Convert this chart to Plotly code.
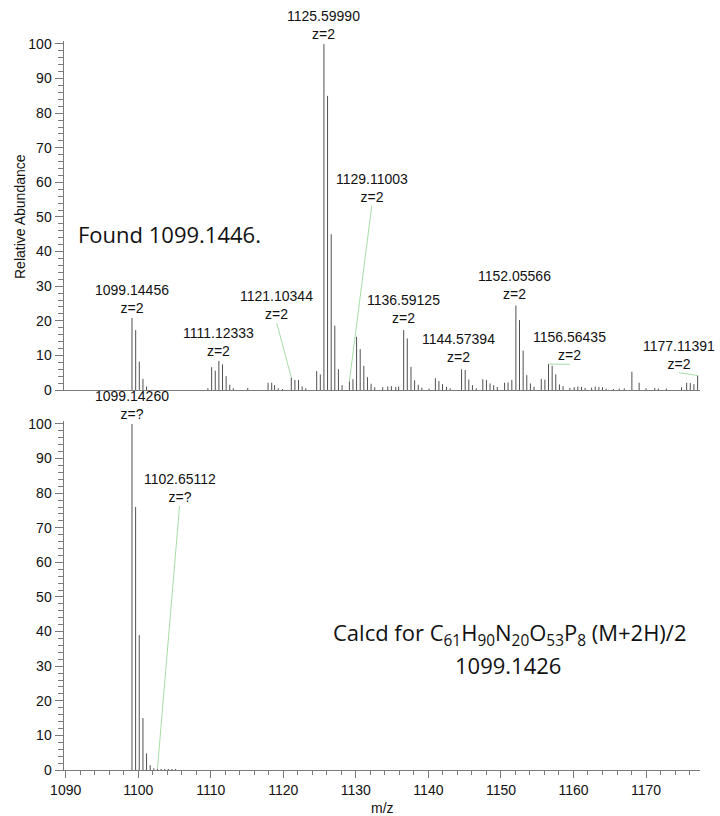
import plotly.graph_objects as go

# ---------------- data ----------------
top_mz = [1099.14, 1099.65, 1100.15, 1100.65, 1101.15, 1109.6, 1110.12, 1110.62, 1111.12, 1111.62,
          1112.12, 1112.62, 1113.1, 1115.1, 1117.9, 1118.4, 1118.8, 1119.3, 1119.9, 1121.10,
          1121.6, 1122.1, 1122.6, 1123.1, 1124.6, 1125.1, 1125.60, 1126.10, 1126.60, 1127.10,
          1127.60, 1128.10, 1129.11, 1129.6, 1130.1, 1130.6, 1131.1, 1131.6, 1132.1, 1132.6,
          1133.7, 1134.4, 1134.9, 1135.5, 1135.9, 1136.59, 1137.09, 1137.6, 1138.1, 1138.6,
          1139.1, 1140.1, 1140.96, 1141.45, 1141.95, 1142.5, 1143.0, 1144.57, 1145.07, 1145.57,
          1146.07, 1146.6, 1147.5, 1148.0, 1148.5, 1149.0, 1149.5, 1150.5, 1150.98, 1151.5,
          1152.06, 1152.56, 1153.06, 1153.56, 1154.06, 1154.56, 1155.56, 1156.06, 1156.56, 1157.06,
          1157.56, 1158.06, 1158.56, 1159.5, 1160.1, 1160.6, 1161.1, 1161.6, 1162.5, 1163.0,
          1163.5, 1164.0, 1164.5, 1165.5, 1166.3, 1167.0, 1168.05, 1169.05, 1170.0, 1171.2,
          1171.7, 1172.8, 1174.9, 1175.6, 1176.1, 1176.6, 1177.11]
top_int = [20.8, 17.3, 8.2, 3.2, 1.0, 0.5, 6.6, 5.6, 8.4, 7.4,
           4.0, 1.5, 0.5, 0.6, 2.1, 2.1, 1.4, 0.5, 0.3, 3.6,
           2.9, 2.9, 1.0, 0.5, 5.5, 4.5, 100.0, 85.0, 45.0, 18.6,
           6.0, 1.4, 2.5, 3.1, 15.4, 11.8, 7.0, 3.7, 1.8, 0.8,
           0.8, 1.0, 1.1, 0.9, 1.0, 17.3, 14.9, 6.7, 2.8, 1.5,
           0.7, 0.4, 3.4, 2.6, 1.7, 0.9, 0.5, 6.0, 5.8, 3.0,
           1.4, 0.5, 3.1, 2.9, 1.9, 1.4, 0.9, 2.1, 2.2, 2.9,
           24.4, 20.2, 11.4, 4.3, 1.9, 0.9, 3.2, 3.0, 7.5, 7.0,
           4.5, 1.6, 1.1, 0.6, 0.8, 1.0, 0.9, 0.6, 0.7, 1.0,
           0.9, 0.8, 0.4, 0.3, 0.4, 0.5, 5.3, 2.1, 0.5, 0.6,
           0.4, 0.4, 0.8, 2.1, 2.0, 1.7, 4.2]

bot_mz = [1099.14, 1099.64, 1100.14, 1100.65, 1101.15, 1101.65, 1102.15, 1102.65,
          1103.15, 1103.65, 1104.15, 1104.65, 1105.15]
bot_int = [100.0, 76.0, 39.0, 15.0, 4.8, 1.4, 0.5, 0.3,
           0.3, 0.3, 0.3, 0.3, 0.3]

# labels: (mass text, charge text, label x, label bottom y, leader-target x, leader-target y or None)
top_labels = [
    ("1099.14456", "z=2", 1099.14, 21.0, None, None),
    ("1111.12333", "z=2", 1111.10, 8.8, None, None),
    ("1121.10344", "z=2", 1119.10, 19.3, 1121.10, 3.6),
    ("1125.59990", "z=2", 1125.50, 100.3, None, None),
    ("1129.11003", "z=2", 1132.20, 53.3, 1129.11, 2.5),
    ("1136.59125", "z=2", 1136.50, 18.3, None, None),
    ("1144.57394", "z=2", 1144.10, 6.8, None, None),
    ("1152.05566", "z=2", 1151.90, 25.0, None, None),
    ("1156.56435", "z=2", 1159.50, 7.4, 1156.56, 7.5),
    ("1177.11391", "z=2", 1174.50, 5.0, 1177.11, 4.2),
]
bot_labels = [
    ("1099.14260", "z=?", 1099.10, 100.3, None, None),
    ("1102.65112", "z=?", 1105.70, 76.3, 1102.65, 0.3),
]

x_ticks = [1090, 1100, 1110, 1120, 1130, 1140, 1150, 1160, 1170]

# ---------------- figure ----------------
W, H = 720, 816
STICK = "#505050"
LEADER = "#a6dea6"
AXC = "#7a7a7a"
FONT = "Liberation Sans, Arial, sans-serif"


def sticks(mz, inten):
    xs, ys = [], []
    for m, v in zip(mz, inten):
        xs += [m, m, None]
        ys += [0, v, None]
    return xs, ys


fig = go.Figure()
tx, ty = sticks(top_mz, top_int)
bx, by = sticks(bot_mz, bot_int)
fig.add_trace(go.Scatter(x=tx, y=ty, mode="lines", line=dict(color=STICK, width=1),
                         xaxis="x", yaxis="y", hoverinfo="skip", showlegend=False))
fig.add_trace(go.Scatter(x=bx, y=by, mode="lines", line=dict(color=STICK, width=1),
                         xaxis="x2", yaxis="y2", hoverinfo="skip", showlegend=False))

annotations = []
for labels, xr, yr in ((top_labels, "x", "y"), (bot_labels, "x2", "y2")):
    for mass, z, lx, ly, px, py in labels:
        annotations.append(dict(text=f"{mass}<br>{z}", x=lx, y=ly, xref=xr, yref=yr,
                                xanchor="center", yanchor="bottom", showarrow=False,
                                font=dict(family=FONT, size=14, color="#111"),
                                borderpad=0))
        if px is not None:
            fig.add_trace(go.Scatter(x=[px, lx], y=[py, ly], mode="lines",
                                     line=dict(color=LEADER, width=1),
                                     xaxis=xr, yaxis=yr, hoverinfo="skip", showlegend=False))

annotations += [
    dict(text="Found 1099.1446.", x=76 / W, y=(H - 234) / H, xref="paper", yref="paper",
         xanchor="left", yanchor="middle", showarrow=False,
         font=dict(family="Open Sans", size=22, color="#111")),
    dict(text="Calcd for C<sub>61</sub>H<sub>90</sub>N<sub>20</sub>O<sub>53</sub>P<sub>8</sub> (M+2H)/2",
         x=510 / W, y=(H - 634) / H, xref="paper", yref="paper",
         xanchor="center", yanchor="middle", showarrow=False,
         font=dict(family="Open Sans", size=22, color="#111")),
    dict(text="1099.1426", x=508 / W, y=(H - 665) / H, xref="paper", yref="paper",
         xanchor="center", yanchor="middle", showarrow=False,
         font=dict(family="Open Sans", size=22, color="#111")),
    dict(text="Relative Abundance", x=20 / W, y=(H - 217) / H, xref="paper", yref="paper",
         xanchor="center", yanchor="middle", textangle=-90, showarrow=False,
         font=dict(family=FONT, size=14, color="#111")),
    dict(text="m/z", x=382 / W, y=(H - 808) / H, xref="paper", yref="paper",
         xanchor="center", yanchor="middle", showarrow=False,
         font=dict(family=FONT, size=14, color="#111")),
]

xrange_ = [1089.7, 1177.44]
xdom = [63.5 / W, 700 / W]
yrange_ = [0, 101]

yaxis_common = dict(range=yrange_, showgrid=False, zeroline=False, showline=True,
                    linecolor=AXC, linewidth=1, ticks="outside", ticklen=8, tickcolor=AXC,
                    dtick=10, tick0=0, tickfont=dict(family=FONT, size=14, color="#111"),
                    minor=dict(dtick=2, ticks="outside", ticklen=5, tickcolor=AXC),
                    automargin=False, fixedrange=True)

fig.update_layout(
    width=W, height=H, margin=dict(l=0, r=0, t=0, b=0),
    paper_bgcolor="white", plot_bgcolor="white",
    showlegend=False,
    xaxis=dict(domain=xdom, range=xrange_, anchor="y", showgrid=False, zeroline=False,
               showline=True, linecolor=AXC, linewidth=1, ticks="", showticklabels=False,
               automargin=False),
    yaxis=dict(domain=[(H - 390) / H, (H - 40.5) / H], anchor="x", **yaxis_common),
    xaxis2=dict(domain=xdom, range=xrange_, anchor="y2", showgrid=False, zeroline=False,
                showline=True, linecolor=AXC, linewidth=1, ticks="outside", ticklen=7,
                tickcolor=AXC, tickvals=x_ticks, ticktext=[str(t) for t in x_ticks],
                tickfont=dict(family=FONT, size=14, color="#111"),
                minor=dict(dtick=2, tick0=1090, ticks="outside", ticklen=4, tickcolor=AXC),
                automargin=False),
    yaxis2=dict(domain=[(H - 770) / H, (H - 420.5) / H], anchor="x2", **yaxis_common),
    annotations=annotations,
)

fig.write_html("out.html")
